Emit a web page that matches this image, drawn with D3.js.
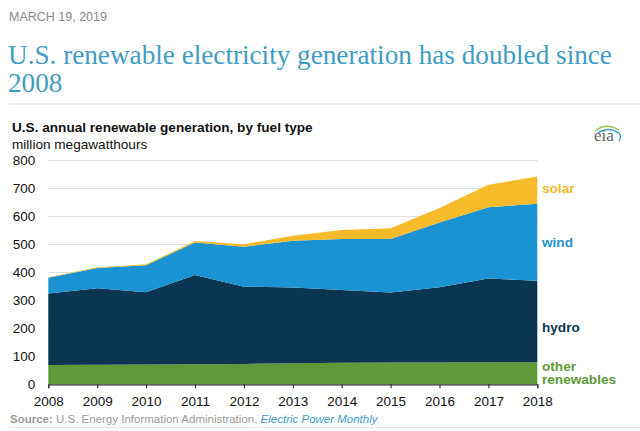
<!DOCTYPE html>
<html>
<head>
<meta charset="utf-8">
<script src="https://cdn.jsdelivr.net/npm/d3@7"></script>
<style>
  html, body { margin: 0; padding: 0; background: #fff; }
  svg { display: block; }
</style>
</head>
<body>
<svg id="chart" width="640" height="431"></svg>
<script>
const years = [2008, 2009, 2010, 2011, 2012, 2013, 2014, 2015, 2016, 2017, 2018];
const otherRenewables = [69, 70, 71, 72, 73, 75, 77, 78, 78, 79, 79];
const hydro = [256, 273, 258, 319, 276, 271, 260, 250, 269, 299, 291];
const wind = [56, 73, 97, 116, 143, 167, 182, 191, 231, 255, 275];
const solar = [2, 2, 3, 5, 9, 18, 33, 39, 52, 80, 98];
const yTicks = [0, 100, 200, 300, 400, 500, 600, 700, 800];
const seriesKeys = ["other", "hydro", "wind", "solar"];
const seriesColors = { other: "#5e9a38", hydro: "#0a3652", wind: "#1b92d1", solar: "#f6bb2b" };

const table = years.map((yr, i) => ({
  year: yr, other: otherRenewables[i], hydro: hydro[i], wind: wind[i], solar: solar[i]
}));

const svg = d3.select("#chart");
const sans = "'Liberation Sans', Arial, sans-serif";

svg.append("rect").attr("width", 640).attr("height", 431).attr("fill", "#fff");

// Header
svg.append("text").attr("x", 9).attr("y", 21)
  .attr("font-family", sans).attr("font-size", 12.5).attr("fill", "#8a8a8a")
  .text("MARCH 19, 2019");

const title = svg.append("text").attr("font-family", "'Liberation Serif', 'Times New Roman', serif")
  .attr("font-size", 27.2).attr("fill", "#3f9cc2");
title.append("tspan").attr("x", 8).attr("y", 64).text("U.S. renewable electricity generation has doubled since");
title.append("tspan").attr("x", 8).attr("y", 91.5).text("2008");

svg.append("line").attr("x1", 9).attr("x2", 640).attr("y1", 104).attr("y2", 104)
  .attr("stroke", "#dcdcdc").attr("stroke-width", 1.2);

svg.append("text").attr("x", 12).attr("y", 131.5)
  .attr("font-family", sans).attr("font-size", 13.6).attr("font-weight", "bold").attr("fill", "#111")
  .text("U.S. annual renewable generation, by fuel type");
svg.append("text").attr("x", 12).attr("y", 149)
  .attr("font-family", sans).attr("font-size", 13.6).attr("fill", "#111")
  .text("million megawatthours");

// eia logo
const logo = svg.append("g").attr("transform", "translate(592,123)");
logo.append("path").attr("d", "M3,8 Q14,-1 27,7").attr("fill", "none").attr("stroke", "#9cc84a").attr("stroke-width", 1.3);
logo.append("path").attr("d", "M6,10 Q16,3 27,10 Q30,14 27,18").attr("fill", "none").attr("stroke", "#3a9cc8").attr("stroke-width", 1.3);
logo.append("text").attr("x", 2).attr("y", 18)
  .attr("font-family", "'Liberation Serif', serif").attr("font-size", 17).attr("fill", "#666")
  .text("eia");

// Scales
const x = d3.scaleLinear().domain([2008, 2018]).range([48.3, 537.3]);
const y = d3.scaleLinear().domain([0, 800]).range([384.3, 160.5]);

// Gridlines
svg.append("g").selectAll("line").data(yTicks.filter(d => d > 0)).join("line")
  .attr("x1", x(2008)).attr("x2", x(2018))
  .attr("y1", d => y(d)).attr("y2", d => y(d))
  .attr("stroke", "#dedede").attr("stroke-width", 1);

// Y labels
const yAxis = svg.append("g").attr("transform", `translate(${x(2008)},0)`)
  .call(d3.axisLeft(y).tickValues(yTicks).tickSize(0).tickPadding(13).tickFormat(d3.format("d")));
yAxis.select(".domain").remove();
yAxis.selectAll("text").attr("font-family", sans).attr("font-size", 13.5).attr("fill", "#111");

// Areas
const stack = d3.stack().keys(seriesKeys);
const stacked = stack(table);
const area = d3.area()
  .x(d => x(d.data.year))
  .y0(d => y(d[0]))
  .y1(d => y(d[1]));
svg.append("g").selectAll("path").data(stacked).join("path")
  .attr("d", area)
  .attr("fill", d => seriesColors[d.key]);

// X axis
const xAxis = svg.append("g").attr("transform", `translate(0,${y(0)})`)
  .call(d3.axisBottom(x).tickValues(years).tickSize(4).tickPadding(8).tickFormat(d3.format("d")));
xAxis.select(".domain").attr("stroke", "#333").attr("stroke-width", 1.2);
xAxis.selectAll(".tick line").attr("stroke", "#333").attr("stroke-width", 1.2);
xAxis.selectAll("text").attr("font-family", sans).attr("font-size", 13.5).attr("fill", "#111");

// Series labels
const labels = [
  { key: "solar", lines: ["solar"], y: 193 },
  { key: "wind", lines: ["wind"], y: 247 },
  { key: "hydro", lines: ["hydro"], y: 331.5 },
  { key: "other", lines: ["other", "renewables"], y: 370.5 }
];
labels.forEach(l => {
  const t = svg.append("text").attr("font-family", sans).attr("font-size", 13.6)
    .attr("font-weight", "bold").attr("fill", seriesColors[l.key]);
  l.lines.forEach((s, i) => t.append("tspan").attr("x", 542).attr("y", l.y + i * 13.5).text(s));
});

// Source
const src = svg.append("text").attr("x", 10).attr("y", 422.5)
  .attr("font-family", sans).attr("font-size", 11.5).attr("fill", "#9a9a9a");
src.append("tspan").attr("font-weight", "bold").text("Source: ");
src.append("tspan").text("U.S. Energy Information Administration, ");
src.append("tspan").attr("fill", "#3f9cc2").attr("font-style", "italic").text("Electric Power Monthly");

svg.append("line").attr("x1", 9).attr("x2", 640).attr("y1", 427.5).attr("y2", 427.5)
  .attr("stroke", "#e6e6e6").attr("stroke-width", 1);
</script>
</body>
</html>
